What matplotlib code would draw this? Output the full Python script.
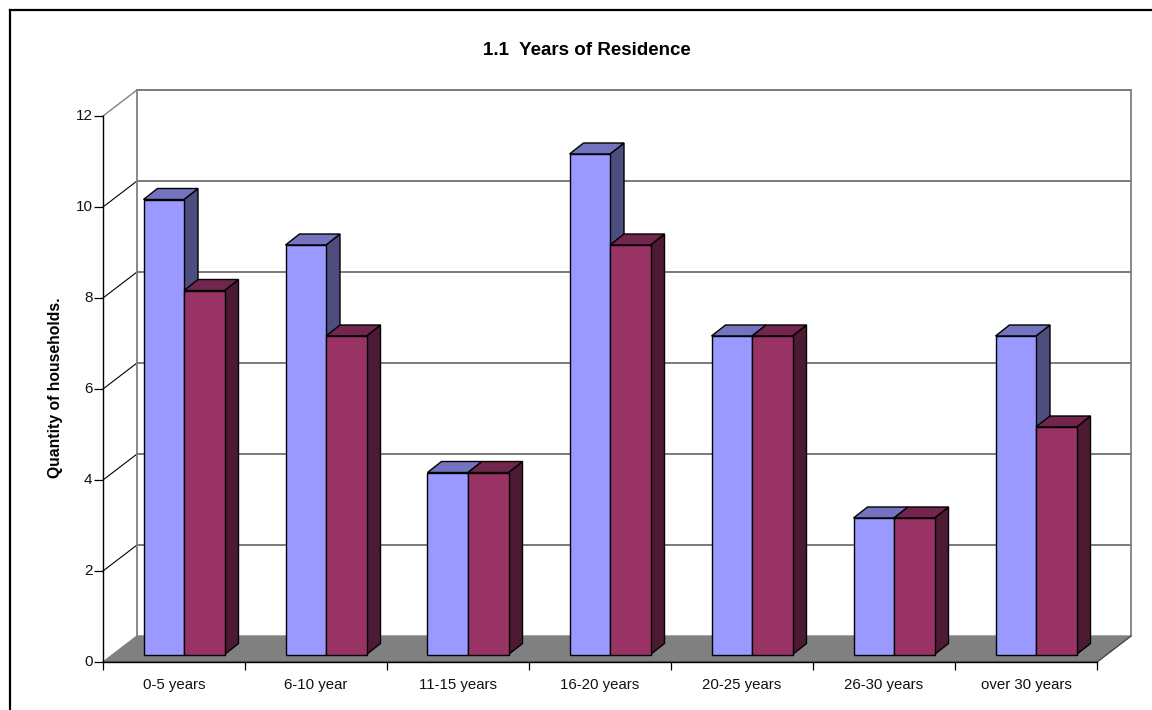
import matplotlib
matplotlib.use("Agg")
import matplotlib.pyplot as plt
from matplotlib.lines import Line2D
from matplotlib.patches import Polygon

categories = ["0-5 years", "6-10 year", "11-15 years", "16-20 years",
              "20-25 years", "26-30 years", "over 30 years"]
series_a = [10, 9, 4, 11, 7, 3, 7]
series_b = [8, 7, 4, 9, 7, 3, 5]
y_ticks = [0, 2, 4, 6, 8, 10, 12]

colors_a = ("#9999FF", "#7373BF", "#4D4D80")
colors_b = ("#993366", "#73264D", "#4D1A33")

plt.rcParams["font.family"] = ["Liberation Sans", "DejaVu Sans"]

W, H = 1152, 710
fig = plt.figure(figsize=(W / 100, H / 100), dpi=100)

# front plane of the fake 3d box, in pixels
left, right, top, bottom = 103, 1097, 116, 662
ax = fig.add_axes([left / W, 1 - bottom / H, (right - left) / W, (bottom - top) / H])
ax.set_xlim(0, len(categories))
ax.set_ylim(0, 12)
ax.patch.set_alpha(0)

# pixel sizes turned into data units
px_x = len(categories) / (right - left)
px_y = 12 / (bottom - top)
depth_x, depth_y = 34 * px_x, 26 * px_y
bar_dx, bar_dy = 14 * px_x, 11 * px_y
off_x, off_y = 10 * px_x, 7.5 * px_y
bar_w = 40.5 * px_x


def shape(points, color, z, edge="black", lw=1.0):
    ax.add_patch(Polygon(points, closed=True, facecolor=color, edgecolor=edge,
                         linewidth=lw, clip_on=False, zorder=z, joinstyle="miter"))


def wall_line(xs, ys, color, lw=1.0):
    ax.plot(xs, ys, color=color, lw=lw, clip_on=False, zorder=1, solid_capstyle="projecting")


def draw_bar(x, value, colors, z):
    x2 = x + bar_w
    y0 = off_y
    y1 = off_y + value
    shape([(x, y0), (x2, y0), (x2, y1), (x, y1)], colors[0], z + 0.2)
    shape([(x, y1), (x2, y1), (x2 + bar_dx, y1 + bar_dy), (x + bar_dx, y1 + bar_dy)], colors[1], z + 0.1)
    shape([(x2, y0), (x2 + bar_dx, y0 + bar_dy), (x2 + bar_dx, y1 + bar_dy), (x2, y1)], colors[2], z)


# floor
n = len(categories)
shape([(0, 0), (n, 0), (n + depth_x, depth_y), (depth_x, depth_y)], "#808080", 2, edge="#808080")
ax.plot([0, n, n + depth_x], [0, 0, depth_y], color="#404040", lw=0.8, clip_on=False, zorder=2.1)

# walls and grid
for v in y_ticks[1:]:
    wall_line([depth_x, n + depth_x], [v + depth_y, v + depth_y], "#707070", 1.3)
    wall_line([0, depth_x], [v, v + depth_y], "#808080" if v == 12 else "black", 1.0 if v == 12 else 0.8)
wall_line([depth_x, depth_x], [depth_y, 12 + depth_y], "#808080", 1.3)
wall_line([n + depth_x, n + depth_x], [depth_y, 12 + depth_y], "#808080", 1.3)

# bars, left to right so the later ones cover the earlier sides
for i in range(n):
    x_start = i + 0.5 - bar_w + off_x
    draw_bar(x_start, series_a[i], colors_a, 3 + i)
    draw_bar(x_start + bar_w, series_b[i], colors_b, 3.5 + i)

for s in ("top", "right"):
    ax.spines[s].set_visible(False)
ax.spines["left"].set_linewidth(1.0)
ax.spines["bottom"].set_linewidth(1.0)
ax.spines["left"].set_zorder(2.5)
ax.spines["bottom"].set_zorder(2.5)

ax.set_yticks(y_ticks)
ax.set_yticklabels([str(v) for v in y_ticks], fontsize=11, color="#111111", va="center")
ax.tick_params(axis="y", length=6.5, width=0.9, pad=1)
ax.set_xticks(range(n + 1))
ax.set_xticklabels([])
ax.tick_params(axis="x", which="major", length=6, width=0.9)
ax.set_xticks([i + 0.5 for i in range(n)], minor=True)
ax.set_xticklabels(categories, minor=True, fontsize=10.8, color="#111111")
ax.tick_params(axis="x", which="minor", length=0, pad=11.5)

fig.text(586.5 / W, 1 - 50.5 / H, "1.1  Years of Residence", ha="center", va="center",
         fontsize=13.5, fontweight="bold")
fig.text(56 / W, 1 - 387.5 / H, "Quantity of households.", ha="center", va="center",
         rotation=90, fontsize=11.3, fontweight="bold")

# chart border, runs off the right and bottom of the picture
fig.add_artist(Line2D([9.5 / W, 9.5 / W], [0, 1 - 10 / H], color="black", lw=1.6))
fig.add_artist(Line2D([9.5 / W, 1], [1 - 10 / H, 1 - 10 / H], color="black", lw=1.6))

fig.savefig("out.png", dpi=100)
